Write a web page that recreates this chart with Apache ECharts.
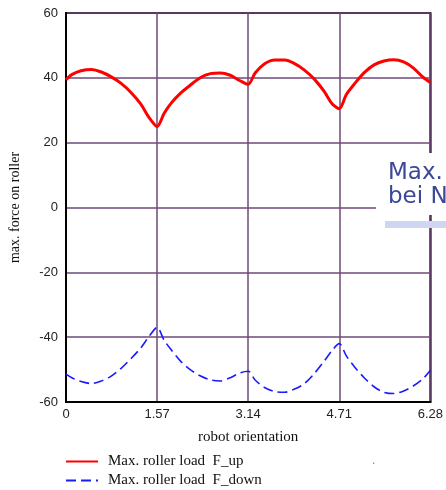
<!DOCTYPE html>
<html>
<head>
<meta charset="utf-8">
<script src="https://cdn.jsdelivr.net/npm/echarts@6/dist/echarts.min.js"></script>
<style>html,body{margin:0;padding:0;background:#fff;}#c{width:446px;height:490px;}</style>
</head>
<body>
<div id="c"></div>
<script>
const orientation = [0, 0.1, 0.26, 0.44, 0.61, 0.78, 0.95, 1.12, 1.29, 1.43, 1.57, 1.69, 1.80, 1.97, 2.14, 2.32, 2.49, 2.66, 2.83, 3.00, 3.14, 3.26, 3.43, 3.60, 3.77, 3.94, 4.11, 4.28, 4.45, 4.59, 4.71, 4.83, 4.97, 5.14, 5.31, 5.48, 5.65, 5.82, 5.99, 6.16, 6.28];
const fUp = [39.4, 41.0, 42.2, 42.6, 41.8, 40.3, 38.3, 35.5, 31.9, 27.8, 25.0, 29.0, 31.9, 35.2, 37.7, 40.1, 41.3, 41.5, 40.8, 39.1, 38.0, 41.5, 44.4, 45.5, 45.5, 44.4, 42.4, 39.6, 35.8, 31.9, 30.5, 34.8, 38.1, 41.6, 44.0, 45.2, 45.6, 44.9, 43.0, 40.1, 38.6];
const fDown = [-51.4, -52.5, -53.7, -54.3, -53.5, -52.0, -49.6, -46.6, -43.3, -39.8, -37.0, -40.9, -43.6, -47.3, -50.0, -52.0, -53.2, -53.5, -52.5, -51.0, -50.5, -53.2, -55.6, -56.8, -57.0, -56.0, -54.3, -51.2, -47.4, -44.0, -42.0, -45.7, -49.1, -52.5, -55.3, -57.0, -57.4, -56.6, -55.0, -52.7, -50.2];
const xTickLabels = ['0', '1.57', '3.14', '4.71', '6.28'];
const seriesNames = ['Max. roller load  F_up', 'Max. roller load  F_down'];

const gridColor = '#6e4a78';
const chart = echarts.init(document.getElementById('c'), null, {renderer: 'canvas'});
chart.setOption({
  animation: false,
  backgroundColor: '#fff',
  grid: {left: 65, right: 13, top: 13, bottom: 88, show: true, borderColor: '#1e0822', borderWidth: 2, containLabel: false},
  xAxis: {
    type: 'value', min: 0, max: 6.28, interval: 1.57,
    name: 'robot orientation', nameLocation: 'middle', nameGap: 28,
    nameTextStyle: {fontFamily: 'Liberation Serif', fontSize: 15, color: '#111'},
    axisLine: {show: true, onZero: false, lineStyle: {color: '#000', width: 2}},
    axisTick: {show: false},
    axisLabel: {fontFamily: 'Liberation Sans', fontSize: 13, color: '#222', margin: 6, showMaxLabel: true,
      formatter: v => xTickLabels[Math.round(v / 1.57)] || ''},
    splitLine: {show: true, lineStyle: {color: gridColor, width: 1.5}}
  },
  yAxis: {
    type: 'value', min: -60, max: 60, interval: 20,
    name: 'max. force on roller', nameLocation: 'middle', nameGap: 44,
    nameTextStyle: {fontFamily: 'Liberation Serif', fontSize: 14, color: '#111'},
    axisLine: {show: true, onZero: false, lineStyle: {color: '#000', width: 2}},
    axisTick: {show: false},
    axisLabel: {fontFamily: 'Liberation Sans', fontSize: 13, color: '#222', margin: 8},
    splitLine: {show: true, lineStyle: {color: gridColor, width: 1.5}}
  },
  legend: {
    orient: 'vertical', left: 65, top: 454, bottom: 0, padding: 0, itemGap: 4, itemWidth: 32, itemHeight: 14,
    itemStyle: {opacity: 0},
    textStyle: {fontFamily: 'Liberation Serif', fontSize: 15, color: '#111', padding: [0, 0, 0, 5]},
    data: seriesNames
  },
  series: [
    {name: seriesNames[0], type: 'line', symbol: 'none', smooth: 0.3, z: 5,
     data: orientation.map((x, i) => [x, fUp[i]]),
     lineStyle: {color: '#ff0000', width: 3}, itemStyle: {color: '#ff0000'}},
    {name: seriesNames[1], type: 'line', symbol: 'none', smooth: 0.3, z: 5,
     data: orientation.map((x, i) => [x, fDown[i]]),
     lineStyle: {color: '#1a1aff', width: 1.6, type: [10, 5]}, itemStyle: {color: '#1a1aff'}}
  ],
  graphic: [
    {type: 'rect', left: 376, top: 153, shape: {width: 70, height: 62}, style: {fill: '#fff'}, z: 100},
    {type: 'rect', left: 385, top: 221, shape: {width: 61, height: 7}, style: {fill: '#cfd6f2'}, z: 100},
    {type: 'text', left: 388, top: 162, style: {text: 'Max.', font: '23px "DejaVu Sans"', fill: '#3b4897'}, z: 101},
    {type: 'text', left: 388, top: 186, style: {text: 'bei N', font: '23px "DejaVu Sans"', fill: '#3b4897'}, z: 101},
    {type: 'text', left: 372, top: 455, style: {text: '.', font: '12px sans-serif', fill: '#888'}, z: 101}
  ]
});
</script>
</body>
</html>
